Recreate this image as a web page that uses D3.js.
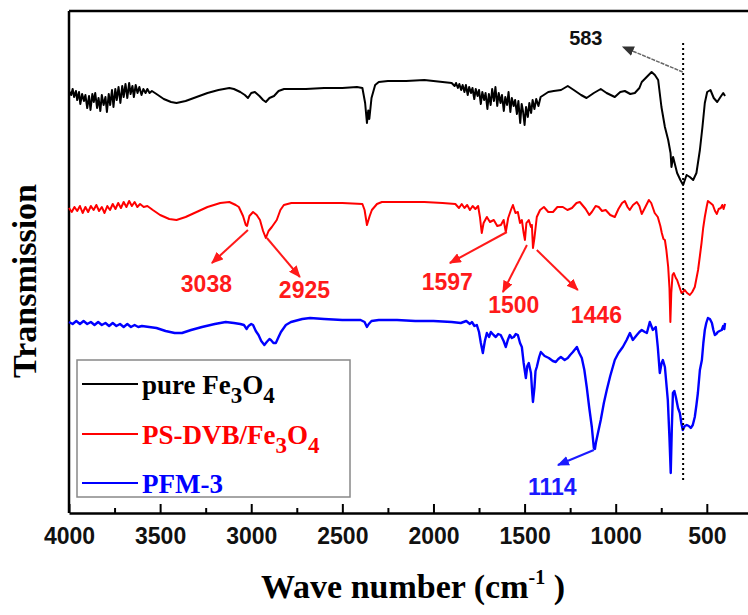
<!DOCTYPE html>
<html>
<head>
<meta charset="utf-8">
<script src="https://cdn.jsdelivr.net/npm/d3@7"></script>
<style>
  html, body { margin: 0; padding: 0; background: #fff; }
  svg { display: block; }
</style>
</head>
<body>
<svg id="chart" width="748" height="615"></svg>
<script>
// spectra: [wave number (cm-1), transmission (a.u.)]
const pureFe3O4 = [
  [4000, 84.4], [3988, 83.6], [3980, 84.8], [3972, 83.2], [3962, 84.4], [3955, 82.6], [3945, 84.2], [3938, 81.8],
  [3928, 83.8], [3918, 82.4], [3910, 83.6], [3900, 81.0], [3890, 83.4], [3882, 80.6], [3872, 83.8], [3864, 82.2],
  [3856, 84.0], [3846, 81.0], [3838, 83.0], [3828, 80.4], [3820, 83.6], [3810, 81.6], [3800, 83.2], [3792, 80.2],
  [3782, 83.8], [3774, 81.6], [3764, 84.6], [3756, 81.2], [3746, 84.8], [3738, 82.6], [3728, 85.2], [3718, 82.0],
  [3708, 85.4], [3700, 83.2], [3690, 85.8], [3680, 83.0], [3670, 86.0], [3662, 83.8], [3652, 85.4], [3644, 83.2],
  [3634, 85.6], [3624, 84.0], [3614, 85.2], [3602, 83.6], [3592, 84.8], [3580, 84.0], [3570, 84.8], [3558, 84.0],
  [3545, 84.4], [3520, 83.8], [3480, 82.8], [3440, 82.2], [3410, 82.0], [3360, 82.4], [3300, 83.2], [3240, 84.0],
  [3180, 84.6], [3120, 85.0], [3095, 84.8], [3060, 84.2], [3035, 83.6], [3018, 83.0], [3000, 84.0], [2980, 84.2],
  [2955, 83.4], [2935, 82.6], [2920, 82.2], [2900, 83.0], [2875, 83.4], [2850, 84.4], [2820, 84.8], [2700, 84.8],
  [2600, 85.0], [2500, 85.0], [2420, 85.2], [2390, 85.0], [2375, 82.0], [2365, 78.0], [2358, 80.5], [2352, 78.8],
  [2340, 83.0], [2320, 85.6], [2300, 86.2], [2250, 86.4], [2150, 86.4], [2050, 86.6], [2000, 86.4], [1950, 86.2],
  [1900, 86.0], [1884, 85.4], [1876, 86.0], [1866, 85.0], [1858, 85.8], [1848, 84.6], [1840, 85.6], [1830, 84.2],
  [1822, 85.6], [1812, 83.6], [1804, 85.2], [1794, 84.0], [1786, 85.0], [1776, 82.8], [1768, 84.8], [1758, 83.4],
  [1750, 84.6], [1740, 81.8], [1732, 84.2], [1722, 82.6], [1714, 84.0], [1704, 80.8], [1696, 83.8], [1686, 81.6],
  [1678, 84.8], [1668, 82.4], [1660, 85.2], [1650, 81.4], [1642, 84.0], [1632, 82.0], [1624, 83.6], [1614, 80.4],
  [1606, 83.2], [1596, 81.6], [1588, 84.2], [1578, 80.2], [1570, 83.0], [1560, 81.4], [1552, 82.6], [1542, 79.8],
  [1534, 82.4], [1524, 78.0], [1516, 81.8], [1508, 80.2], [1500, 77.6], [1492, 81.2], [1482, 79.2], [1474, 82.0],
  [1464, 80.0], [1456, 82.6], [1446, 80.8], [1436, 82.8], [1424, 81.4], [1412, 83.2], [1395, 83.6], [1370, 84.2],
  [1340, 84.4], [1300, 84.6], [1263, 85.4], [1230, 84.6], [1190, 83.6], [1160, 83.0], [1120, 84.0], [1082, 84.8],
  [1050, 84.0], [1005, 83.2], [975, 84.2], [950, 84.4], [920, 83.8], [895, 84.0], [870, 85.0], [857, 86.2],
  [830, 87.2], [803, 88.2], [785, 87.6], [767, 86.6], [749, 81.2], [730, 77.2], [712, 74.6], [699, 72.0],
  [694, 69.2], [685, 71.2], [663, 68.0], [645, 66.6], [630, 65.6], [611, 67.6], [593, 67.2], [575, 66.6],
  [557, 68.0], [538, 72.6], [524, 77.2], [511, 82.0], [498, 84.2], [480, 84.6], [462, 83.0], [443, 82.2],
  [425, 83.2], [410, 84.0], [400, 83.4]
];

const psDvbFe3O4 = [
  [4000, 61.0], [3985, 60.2], [3970, 61.2], [3955, 60.4], [3940, 61.4], [3925, 60.0], [3910, 61.2], [3895, 60.2],
  [3880, 61.4], [3865, 60.6], [3850, 61.6], [3835, 60.4], [3820, 61.2], [3805, 60.0], [3790, 61.4], [3775, 60.6],
  [3760, 61.8], [3745, 60.8], [3730, 62.0], [3715, 61.0], [3700, 62.2], [3685, 61.2], [3670, 62.4], [3655, 61.4],
  [3640, 62.2], [3625, 61.2], [3610, 61.8], [3590, 61.2], [3570, 61.4], [3540, 60.6], [3500, 59.6], [3450, 58.8],
  [3410, 58.6], [3360, 59.2], [3300, 60.2], [3240, 61.2], [3170, 62.0], [3120, 62.2], [3085, 61.6], [3068, 61.2],
  [3045, 59.4], [3030, 57.6], [3023, 57.4], [3010, 59.4], [2990, 60.2], [2970, 59.6], [2952, 58.6], [2935, 56.4],
  [2920, 55.0], [2905, 56.4], [2887, 57.2], [2860, 58.6], [2840, 60.6], [2821, 61.6], [2780, 62.0], [2600, 62.0],
  [2500, 62.0], [2390, 61.8], [2378, 60.6], [2365, 57.6], [2350, 59.4], [2338, 60.6], [2310, 61.8], [2283, 62.2],
  [2200, 62.2], [2050, 62.2], [1950, 62.0], [1880, 61.8], [1860, 61.0], [1845, 61.8], [1830, 61.0], [1815, 61.6],
  [1800, 60.6], [1785, 61.4], [1770, 60.8], [1755, 61.4], [1745, 59.2], [1735, 56.0], [1725, 58.0], [1707, 59.2],
  [1690, 58.2], [1669, 58.6], [1650, 57.4], [1630, 57.6], [1615, 58.6], [1603, 56.2], [1590, 59.0], [1575, 60.6],
  [1564, 61.6], [1550, 60.0], [1537, 60.2], [1525, 58.0], [1515, 58.6], [1505, 56.0], [1498, 54.6], [1490, 58.0],
  [1477, 58.6], [1465, 57.2], [1460, 57.6], [1454, 53.0], [1446, 55.0], [1433, 59.2], [1415, 60.6], [1394, 61.2],
  [1370, 60.2], [1344, 60.2], [1320, 61.2], [1290, 61.2], [1265, 60.6], [1240, 61.0], [1215, 62.0], [1197, 62.2],
  [1165, 60.8], [1145, 59.6], [1131, 60.2], [1110, 61.4], [1093, 61.2], [1075, 60.4], [1055, 60.6], [1030, 59.6],
  [1005, 59.2], [985, 60.8], [965, 62.0], [950, 62.4], [935, 61.2], [923, 60.6], [905, 61.6], [884, 62.2],
  [870, 61.4], [857, 59.8], [840, 61.0], [818, 62.6], [805, 62.0], [786, 60.0], [769, 59.2], [755, 57.4],
  [747, 56.0], [738, 54.8], [730, 54.6], [722, 52.6], [712, 49.2], [705, 45.0], [700, 38.2], [695, 44.0],
  [688, 47.6], [681, 48.0], [670, 47.0], [663, 46.6], [650, 45.2], [639, 44.0], [630, 44.2], [621, 44.6],
  [608, 44.0], [593, 43.6], [580, 44.2], [566, 45.2], [548, 48.6], [538, 51.4], [529, 54.0], [520, 57.0],
  [511, 59.2], [500, 61.4], [494, 62.4], [480, 62.0], [467, 61.6], [455, 60.4], [445, 59.8], [435, 60.8],
  [423, 61.0], [415, 61.6], [408, 60.8], [400, 61.8]
];

const pfm3 = [
  [4000, 38.2], [3980, 37.8], [3960, 38.4], [3940, 37.8], [3920, 38.4], [3900, 37.8], [3880, 38.2], [3860, 37.6],
  [3840, 38.2], [3820, 37.6], [3800, 38.0], [3780, 37.4], [3760, 38.0], [3740, 37.4], [3720, 37.8], [3700, 37.2],
  [3680, 37.8], [3660, 37.2], [3640, 37.6], [3620, 37.2], [3600, 37.4], [3560, 37.2], [3520, 37.0], [3470, 36.4],
  [3420, 36.0], [3380, 36.0], [3330, 36.6], [3270, 37.2], [3200, 37.8], [3140, 38.2], [3095, 38.0], [3060, 37.8],
  [3040, 37.6], [3025, 36.8], [3015, 37.4], [3000, 37.8], [2990, 37.6], [2975, 36.4], [2960, 35.6], [2945, 34.4],
  [2928, 33.6], [2915, 34.2], [2900, 34.8], [2892, 34.6], [2878, 34.0], [2865, 34.0], [2850, 35.2], [2837, 36.2],
  [2810, 37.6], [2782, 38.2], [2720, 38.8], [2677, 39.0], [2600, 38.8], [2500, 38.6], [2400, 38.6], [2378, 38.2],
  [2365, 37.2], [2355, 37.8], [2340, 38.4], [2300, 38.6], [2200, 38.6], [2100, 38.4], [2000, 38.4], [1900, 38.2],
  [1850, 38.0], [1820, 38.4], [1800, 37.8], [1789, 38.2], [1775, 37.4], [1762, 37.6], [1750, 36.2], [1740, 34.0],
  [1729, 32.0], [1718, 34.4], [1707, 36.0], [1695, 35.2], [1685, 36.2], [1670, 35.6], [1658, 35.2], [1645, 35.8],
  [1631, 35.6], [1615, 34.4], [1603, 33.2], [1592, 34.6], [1581, 35.6], [1570, 35.0], [1559, 35.2], [1548, 35.8],
  [1537, 35.6], [1525, 34.0], [1515, 33.2], [1505, 30.0], [1493, 27.0], [1485, 29.4], [1477, 30.0], [1465, 28.0],
  [1458, 24.0], [1454, 22.2], [1446, 25.0], [1440, 28.4], [1433, 29.2], [1420, 31.2], [1411, 32.2], [1390, 31.4],
  [1367, 31.0], [1345, 30.4], [1329, 30.2], [1315, 30.8], [1301, 31.2], [1280, 30.6], [1263, 31.0], [1250, 31.6],
  [1235, 32.2], [1213, 33.2], [1200, 32.0], [1186, 31.0], [1172, 28.6], [1159, 25.2], [1145, 21.0], [1131, 17.2],
  [1120, 13.0], [1114, 12.8], [1109, 14.0], [1095, 16.4], [1082, 18.6], [1065, 22.0], [1049, 24.6], [1030, 27.4],
  [1005, 30.6], [985, 32.0], [961, 33.2], [940, 34.6], [922, 36.0], [906, 34.6], [884, 35.6], [870, 36.2],
  [857, 36.6], [840, 36.2], [829, 36.0], [813, 38.2], [796, 36.6], [780, 37.2], [769, 33.2], [758, 28.0],
  [748, 30.0], [741, 30.6], [730, 29.2], [714, 22.6], [705, 15.0], [698, 8.0], [692, 17.0], [686, 24.0],
  [678, 24.4], [670, 23.2], [658, 21.0], [648, 20.0], [640, 18.0], [632, 16.6], [621, 17.4], [610, 17.6],
  [599, 17.4], [588, 17.0], [577, 17.6], [566, 19.2], [557, 21.6], [549, 24.0], [538, 28.6], [527, 30.6],
  [519, 34.0], [511, 36.6], [503, 38.0], [494, 39.0], [483, 38.8], [472, 38.0], [464, 36.6], [456, 35.6],
  [448, 35.8], [440, 36.2], [430, 36.4], [418, 36.6], [410, 37.4], [404, 36.8], [400, 38.0]
];

const xTicks = [4000, 3500, 3000, 2500, 2000, 1500, 1000, 500];
const xMinorTicks = [3750, 3250, 2750, 2250, 1750, 1250, 750];

// legend: label pieces, true = subscript
const legendLabels = [
  [['pure Fe', false], ['3', true], ['O', false], ['4', true]],
  [['PS-DVB/Fe', false], ['3', true], ['O', false], ['4', true]],
  [['PFM-3', false]]
];
const seriesColors = ['#000', '#ff0000', '#0000ff'];

// peak labels in data units: tail on the curve, arrow tip, label spot
const peakLabels = [
  { text: '3038', from: [3018, 56.6], to: [3216, 50.0], at: [3246, 44.2], color: '#ff1a1a' },
  { text: '2925', from: [2914, 55.0], to: [2733, 47.2], at: [2708, 43.0], color: '#ff1a1a' },
  { text: '1597', from: [1597, 56.2], to: [1910, 50.0], at: [1924, 44.6], color: '#ff1a1a' },
  { text: '1500', from: [1487, 53.6], to: [1619, 44.2], at: [1559, 40.0], color: '#ff1a1a' },
  { text: '1446', from: [1433, 52.6], to: [1208, 44.6], at: [1106, 38.0], color: '#ff1a1a' },
  { text: '1114', from: [1120, 12.6], to: [1317, 9.6], at: [1348, 3.6], color: '#1a1aff' }
];
const markerWave = 630;
const markerLabel = { text: '583', from: [632, 88.2], to: [961, 93.2], at: [1164, 93.6] };

const width = 748, height = 615;
const margin = { top: 11, left: 69, bottom: 513 };

const x = d3.scaleLinear().domain([4000, 274]).range([margin.left, width]);
const y = d3.scaleLinear().domain([0, 100]).range([margin.bottom, 13]);

const svg = d3.select('#chart');

const defs = svg.append('defs');
function arrowMarker(id, color) {
  defs.append('marker')
    .attr('id', id)
    .attr('markerUnits', 'userSpaceOnUse')
    .attr('viewBox', '0 0 12 10')
    .attr('refX', 11).attr('refY', 5)
    .attr('markerWidth', 12).attr('markerHeight', 10)
    .attr('orient', 'auto')
    .append('path')
    .attr('d', 'M0,0 L12,5 L0,10 Z')
    .attr('fill', color);
}
arrowMarker('arrow-red', '#ff1a1a');
arrowMarker('arrow-blue', '#1a1aff');
arrowMarker('arrow-gray', '#333');

// frame: top and left lines
svg.append('line')
  .attr('x1', margin.left).attr('x2', width + 5)
  .attr('y1', margin.top).attr('y2', margin.top)
  .attr('stroke', '#000').attr('stroke-width', 2.5);
svg.append('line')
  .attr('x1', margin.left).attr('x2', margin.left)
  .attr('y1', margin.top).attr('y2', margin.bottom)
  .attr('stroke', '#000').attr('stroke-width', 2.5);

// bottom axis, ticks pointing inward
const xAxis = svg.append('g')
  .attr('transform', `translate(0,${margin.bottom})`)
  .call(d3.axisBottom(x).tickValues(xTicks).tickFormat(d3.format('d'))
    .tickSize(-9).tickSizeOuter(0).tickPadding(15));
xAxis.select('.domain').attr('stroke-width', 2.5);
xAxis.selectAll('.tick line').attr('stroke-width', 2);
xAxis.selectAll('.tick text')
  .attr('font-family', 'Liberation Sans, Arial, sans-serif')
  .attr('font-weight', 'bold')
  .attr('font-size', 23)
  .attr('fill', '#111');

svg.append('g')
  .attr('transform', `translate(0,${margin.bottom})`)
  .call(d3.axisBottom(x).tickValues(xMinorTicks).tickSize(-5).tickFormat(''))
  .call(g => g.select('.domain').remove())
  .selectAll('.tick line').attr('stroke-width', 2);

// axis titles
svg.append('text')
  .attr('transform', `translate(36,281) rotate(-90)`)
  .attr('text-anchor', 'middle')
  .attr('font-family', 'Liberation Serif, Times New Roman, serif')
  .attr('font-weight', 'bold')
  .attr('font-size', 34)
  .text('Transmission');

const xTitle = svg.append('text')
  .attr('x', 413).attr('y', 598)
  .attr('text-anchor', 'middle')
  .attr('font-family', 'Liberation Serif, Times New Roman, serif')
  .attr('font-weight', 'bold')
  .attr('font-size', 34);
xTitle.append('tspan').text('Wave number (cm');
xTitle.append('tspan').attr('font-size', 20).attr('dy', -14).text('-1');
xTitle.append('tspan').attr('dy', 14).text(' )');

// spectra
const line = d3.line().x(d => x(d[0])).y(d => y(d[1]));
[pureFe3O4, psDvbFe3O4, pfm3].forEach((s, i) => {
  svg.append('path')
    .datum(s)
    .attr('d', line)
    .attr('fill', 'none')
    .attr('stroke', seriesColors[i])
    .attr('stroke-width', i === 2 ? 2.4 : 2)
    .attr('stroke-linejoin', 'round');
});

// dotted marker line
svg.append('line')
  .attr('x1', x(markerWave)).attr('x2', x(markerWave))
  .attr('y1', y(94)).attr('y2', y(6))
  .attr('stroke', '#000')
  .attr('stroke-width', 2)
  .attr('stroke-dasharray', '2,3');

// peak arrows and labels
peakLabels.forEach(p => {
  svg.append('line')
    .attr('x1', x(p.from[0])).attr('y1', y(p.from[1]))
    .attr('x2', x(p.to[0])).attr('y2', y(p.to[1]))
    .attr('stroke', p.color)
    .attr('stroke-width', 2)
    .attr('marker-end', p.color === '#1a1aff' ? 'url(#arrow-blue)' : 'url(#arrow-red)');
  svg.append('text')
    .attr('x', x(p.at[0])).attr('y', y(p.at[1]))
    .attr('text-anchor', 'middle')
    .attr('font-family', 'Liberation Sans, Arial, sans-serif')
    .attr('font-weight', 'bold')
    .attr('font-size', 23)
    .attr('fill', p.color)
    .text(p.text);
});

svg.append('line')
  .attr('x1', x(markerLabel.from[0])).attr('y1', y(markerLabel.from[1]))
  .attr('x2', x(markerLabel.to[0])).attr('y2', y(markerLabel.to[1]))
  .attr('stroke', '#666')
  .attr('stroke-width', 1.5)
  .attr('stroke-dasharray', '4,1')
  .attr('marker-end', 'url(#arrow-gray)');
svg.append('text')
  .attr('x', x(markerLabel.at[0])).attr('y', y(markerLabel.at[1]))
  .attr('text-anchor', 'middle')
  .attr('font-family', 'Liberation Sans, Arial, sans-serif')
  .attr('font-weight', 'bold')
  .attr('font-size', 20)
  .attr('fill', '#111')
  .text(markerLabel.text);

// legend
const legend = svg.append('g');
legend.append('rect')
  .attr('x', 77).attr('y', 360)
  .attr('width', 273).attr('height', 137)
  .attr('fill', '#fff')
  .attr('stroke', '#888')
  .attr('stroke-width', 1.5);

const legendRows = [384, 434, 483];
legendLabels.forEach((parts, i) => {
  legend.append('line')
    .attr('x1', 82).attr('x2', 138)
    .attr('y1', legendRows[i]).attr('y2', legendRows[i])
    .attr('stroke', seriesColors[i])
    .attr('stroke-width', 2);
  const t = legend.append('text')
    .attr('x', 142).attr('y', legendRows[i] + 10)
    .attr('font-family', 'Liberation Serif, Times New Roman, serif')
    .attr('font-weight', 'bold')
    .attr('font-size', 27)
    .attr('fill', seriesColors[i]);
  let shifted = false;
  parts.forEach(([txt, sub]) => {
    const ts = t.append('tspan').text(txt);
    if (sub) {
      ts.attr('font-size', 23).attr('dy', shifted ? 0 : 9);
      shifted = true;
    } else {
      ts.attr('dy', shifted ? -9 : 0);
      shifted = false;
    }
  });
});
</script>
</body>
</html>
